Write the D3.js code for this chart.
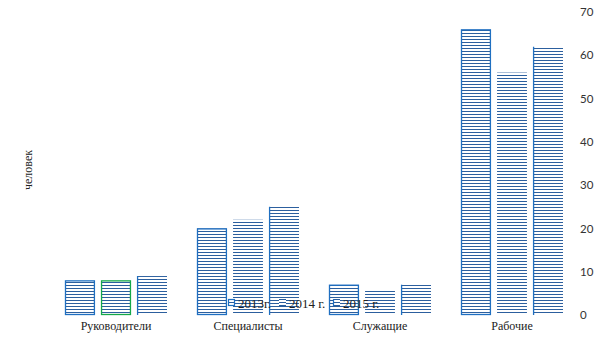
<!DOCTYPE html>
<html>
<head>
<meta charset="utf-8">
<script src="https://cdn.jsdelivr.net/npm/d3@7"></script>
<style>
  html, body { margin: 0; padding: 0; background: #fff; }
  svg { display: block; }
</style>
</head>
<body>
<svg id="chart" width="605" height="340"></svg>
<script>
// Численность персонала по категориям, человек
const categories = ["Руководители", "Специалисты", "Служащие", "Рабочие"];
const years = ["2013г.", "2014 г.", "2015 г."];
const values2013 = [8, 20, 7, 66];
const values2014 = [8, 22, 6, 56];
const values2015 = [9, 25, 7, 62];
const yTicks = [0, 10, 20, 30, 40, 50, 60, 70];

const seriesValues = [values2013, values2014, values2015];

const W = 605, H = 340;
const plot = { left: 50, right: 578, top: 12, bottom: 315 };

const svg = d3.select("#chart");
const defs = svg.append("defs");

const hatchColor = "#2c5f9e";
const edgeColor = "#1f6fc1";
const step = 3;

// horizontal-line hatch, anchored to the baseline
const pat = defs.append("pattern")
  .attr("id", "hatch")
  .attr("patternUnits", "userSpaceOnUse")
  .attr("x", 0).attr("y", plot.bottom % step)
  .attr("width", 8).attr("height", step);
pat.append("rect").attr("width", 8).attr("height", step).attr("fill", "#fff");
pat.append("line")
  .attr("x1", 0).attr("x2", 8).attr("y1", 0.5).attr("y2", 0.5)
  .attr("stroke", hatchColor).attr("stroke-width", 1);

const x0 = d3.scaleBand().domain(categories).range([plot.left, plot.right]);
const x1 = d3.scaleBand().domain(years).range([15, x0.bandwidth() - 15]).paddingInner(0.17);
const y = d3.scaleLinear().domain([0, 70]).range([plot.bottom, plot.top]);

// right-side value axis (labels only)
const yAxis = d3.axisRight(y).tickValues(yTicks).tickSize(0).tickPadding(0);
const gy = svg.append("g").attr("transform", `translate(${plot.right + 2},0)`).call(yAxis);
gy.select(".domain").remove();
gy.selectAll("text")
  .attr("font-family", "Lato, 'DejaVu Sans', sans-serif")
  .attr("font-size", 11.5)
  .attr("fill", "#333");

// bars
const rows = [];
categories.forEach((c, ci) => {
  years.forEach((yr, si) => rows.push({ cat: c, year: yr, si, value: seriesValues[si][ci] }));
});

const g = svg.append("g");
const bar = g.selectAll("g.bar").data(rows).join("g").attr("class", "bar")
  .attr("transform", d => `translate(${x0(d.cat) + x1(d.year)},0)`);

bar.append("rect")
  .attr("x", 0).attr("y", d => y(d.value))
  .attr("width", x1.bandwidth()).attr("height", d => y(0) - y(d.value))
  .attr("fill", "url(#hatch)");

// 2013: full outline; Руководители 2014 outlined in green
bar.filter(d => d.si === 0 || (d.si === 1 && d.cat === "Руководители"))
  .append("rect")
  .attr("x", 0.5).attr("y", d => y(d.value) + 0.5)
  .attr("width", x1.bandwidth() - 1).attr("height", d => y(0) - y(d.value) - 1)
  .attr("fill", "none")
  .attr("stroke", d => d.si === 1 ? "#14a84a" : edgeColor)
  .attr("stroke-width", 1.3);

// 2015: left edge only
bar.filter(d => d.si === 2)
  .append("line")
  .attr("x1", 0.5).attr("x2", 0.5)
  .attr("y1", d => y(d.value)).attr("y2", y(0))
  .attr("stroke", edgeColor).attr("stroke-width", 1.3);

// category labels
svg.append("g").selectAll("text").data(categories).join("text")
  .attr("x", d => x0(d) + x0.bandwidth() / 2)
  .attr("y", 330)
  .attr("text-anchor", "middle")
  .attr("font-family", "'Liberation Serif', 'DejaVu Serif', serif")
  .attr("font-size", 12)
  .attr("fill", "#222")
  .text(d => d);

// axis title
svg.append("text")
  .attr("transform", "translate(32,170) rotate(-90)")
  .attr("text-anchor", "middle")
  .attr("font-family", "'Liberation Serif', 'DejaVu Serif', serif")
  .attr("font-size", 12)
  .attr("fill", "#222")
  .text("человек");

// legend
const legendX = [228, 279, 333];
const lg = svg.append("g").attr("transform", "translate(0,299)");
const item = lg.selectAll("g").data(years).join("g")
  .attr("transform", (d, i) => `translate(${legendX[i]},0)`);
item.append("rect").attr("x", 0).attr("y", 0).attr("width", 7).attr("height", 7)
  .attr("fill", "url(#hatch)");
item.filter((d, i) => i === 0).append("rect")
  .attr("x", 0.5).attr("y", 0.5).attr("width", 6).attr("height", 6)
  .attr("fill", "none").attr("stroke", edgeColor).attr("stroke-width", 1.2);
item.filter((d, i) => i === 2).append("line")
  .attr("x1", 0.5).attr("x2", 0.5).attr("y1", 0).attr("y2", 7)
  .attr("stroke", edgeColor).attr("stroke-width", 1.2);
item.append("text")
  .attr("x", 10).attr("y", 8.5)
  .attr("font-family", "'Liberation Serif', 'DejaVu Serif', serif")
  .attr("font-size", 13)
  .attr("fill", "#222")
  .text(d => d);
</script>
</body>
</html>
